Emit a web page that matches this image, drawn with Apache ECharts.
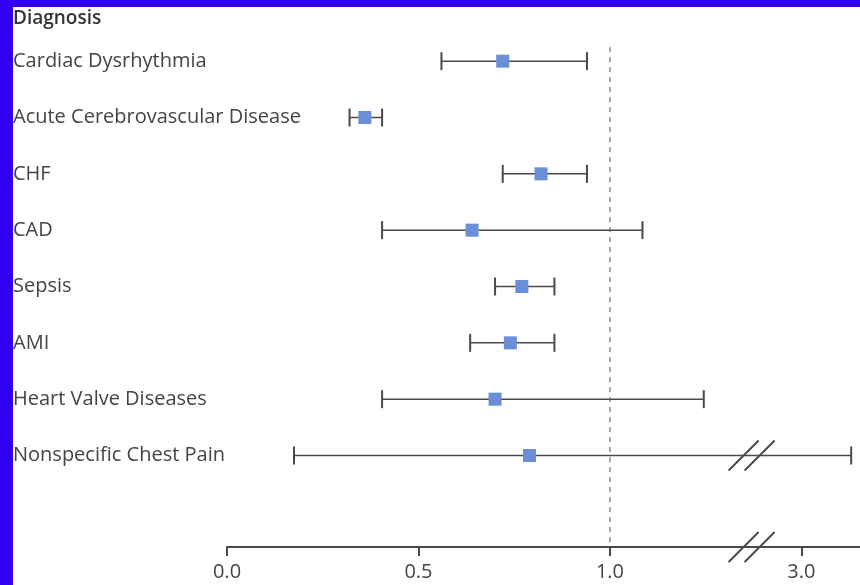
<!DOCTYPE html>
<html>
<head>
<meta charset="utf-8">
<script src="https://cdn.jsdelivr.net/npm/echarts@6.0.0/dist/echarts.min.js"></script>
<style>
  html, body { margin: 0; padding: 0; background: #fff; }
  #forestChart { width: 860px; height: 585px; }
</style>
</head>
<body>
<div id="forestChart"></div>
<script>
  // diagnoses, top to bottom
  var diagnoses = ['Cardiac Dysrhythmia', 'Acute Cerebrovascular Disease', 'CHF', 'CAD',
    'Sepsis', 'AMI', 'Heart Valve Diseases', 'Nonspecific Chest Pain', ''];
  // point estimate and interval
  var estimate = [0.72, 0.36, 0.82, 0.64, 0.77, 0.74, 0.70, 0.79];
  var lower = [0.56, 0.32, 0.72, 0.405, 0.70, 0.635, 0.405, 0.175];
  var upper = [0.94, 0.405, 0.94, 1.085, 0.855, 0.855, 1.245, 3.13];
  var tickValues = [0.0, 0.5, 1.0, 3.0];

  // broken axis: 0..1.4 linear, then jump so 3.0 sits where 1.5 would
  var breakAt = 1.37;
  function toAxis(v) {
    return v >= 3.0 ? 1.5 + (v - 3.0) : v;
  }
  function fromAxis(a) {
    return a >= 1.5 - 1e-9 ? 3.0 + (a - 1.5) : a;
  }

  var barData = diagnoses.slice(0, estimate.length).map(function (d, i) {
    return [toAxis(lower[i]), toAxis(upper[i]), i];
  });
  var pointData = estimate.map(function (v, i) { return [toAxis(v), i]; });
  // rows whose bar crosses the break get the // marks
  var breakRows = [];
  upper.forEach(function (v, i) { if (v >= 3.0) breakRows.push(i); });

  var lineColor = '#4a4a4a';
  var axisOffset = 7;

  function slashes(cx, cy) {
    return [-8, 8].map(function (dx) {
      return {
        type: 'line',
        shape: { x1: cx + dx - 15, y1: cy + 15, x2: cx + dx + 15, y2: cy - 15 },
        style: { stroke: lineColor, lineWidth: 2 }
      };
    });
  }

  var option = {
    backgroundColor: '#fff',
    animation: false,
    textStyle: { fontFamily: 'Open Sans' },
    title: {
      text: 'Diagnosis',
      left: 13,
      top: 9,
      padding: 0,
      textStyle: { fontSize: 19, fontWeight: 600, color: '#333', fontFamily: 'Open Sans' }
    },
    graphic: [
      { type: 'rect', shape: { x: 0, y: 0, width: 860, height: 7 }, style: { fill: '#3100ef' }, z: 100 },
      { type: 'rect', shape: { x: 0, y: 0, width: 13, height: 585 }, style: { fill: '#3100ef' }, z: 100 }
    ],
    grid: { left: 227, right: 0, top: 33, height: 507 },
    xAxis: {
      type: 'value',
      min: 0,
      max: 1.653,
      interval: 0.5,
      offset: axisOffset,
      splitLine: { show: false },
      axisLine: { show: true, lineStyle: { color: lineColor, width: 2 } },
      axisTick: {
        show: true, length: 9, inside: false,
        customValues: tickValues.map(toAxis),
        lineStyle: { color: lineColor, width: 2 }
      },
      axisLabel: {
        customValues: tickValues.map(toAxis),
        formatter: function (a) { return fromAxis(a).toFixed(1); },
        fontSize: 20, color: '#444', margin: 15, fontFamily: 'Open Sans'
      }
    },
    yAxis: {
      type: 'category',
      data: diagnoses,
      inverse: true,
      axisLine: { show: false },
      axisTick: { show: false },
      splitLine: { show: false },
      axisLabel: { align: 'left', margin: 214, fontSize: 20, color: '#444', fontFamily: 'Open Sans' }
    },
    series: [
      {
        type: 'custom',
        name: 'interval',
        data: barData,
        encode: { x: [0, 1], y: 2 },
        renderItem: function (params, api) {
          var a = api.coord([api.value(0), api.value(2)]);
          var b = api.coord([api.value(1), api.value(2)]);
          var h = 9;
          var children = [
            { type: 'line', shape: { x1: a[0], y1: a[1], x2: b[0], y2: b[1] }, style: { stroke: lineColor, lineWidth: 1.5 } },
            { type: 'line', shape: { x1: a[0], y1: a[1] - h, x2: a[0], y2: a[1] + h }, style: { stroke: lineColor, lineWidth: 2 } },
            { type: 'line', shape: { x1: b[0], y1: b[1] - h, x2: b[0], y2: b[1] + h }, style: { stroke: lineColor, lineWidth: 2 } }
          ];
          if (breakRows.indexOf(api.value(2)) >= 0) {
            var m = api.coord([breakAt, api.value(2)]);
            children = children.concat(slashes(m[0], m[1]));
          }
          if (params.dataIndex === 0) {
            var bottom = params.coordSys.y + params.coordSys.height + axisOffset;
            var m2 = api.coord([breakAt, 0]);
            children = children.concat(slashes(m2[0], bottom));
            // dashed reference line at 1.0
            var r = api.coord([1.0, 0]);
            children.push({
              type: 'line',
              shape: { x1: r[0], y1: r[1] - 14, x2: r[0], y2: bottom },
              style: { stroke: '#8a8a8a', lineWidth: 1.5, lineDash: [5, 5] },
              z2: -1
            });
          }
          return { type: 'group', children: children };
        },
        z: 2
      },
      {
        type: 'scatter',
        name: 'estimate',
        data: pointData,
        symbol: 'rect',
        symbolSize: 13,
        itemStyle: { color: '#6a8fd6', opacity: 1 },
        z: 3
      }
    ]
  };

  var forestChart = echarts.init(document.getElementById('forestChart'));
  forestChart.setOption(option);
</script>
</body>
</html>
